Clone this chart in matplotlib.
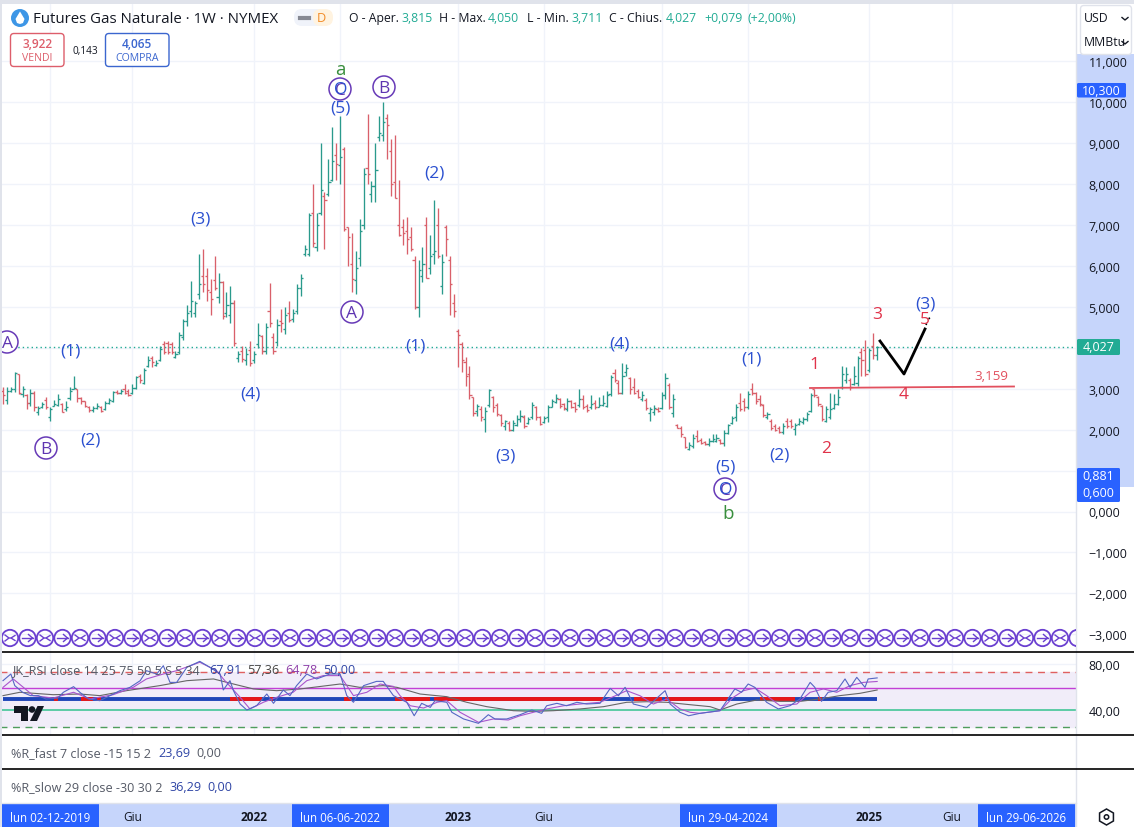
import matplotlib
matplotlib.use("Agg")
import matplotlib.pyplot as plt
from matplotlib.collections import LineCollection
from matplotlib.lines import Line2D
from matplotlib.patches import Rectangle, FancyBboxPatch, Circle, Polygon, RegularPolygon
from matplotlib.transforms import Affine2D

# ---------- data ----------
highs = [3.05,3.03,3.03,3.40,3.36,3.06,2.87,2.99,2.95,2.58,2.67,2.79,2.54,2.73,2.87,2.65,2.71,3.03,3.30,3.00,
 2.79,2.71,2.57,2.57,2.65,2.58,2.71,2.76,2.95,2.97,2.99,3.11,3.00,3.11,3.32,3.36,3.50,3.79,3.79,3.70,
 4.03,4.17,4.17,4.15,3.93,4.39,4.70,5.04,5.64,5.14,6.29,6.42,5.94,5.68,6.25,5.83,5.64,5.36,5.50,5.16,
 3.93,4.05,3.99,4.17,3.93,4.60,4.30,4.60,5.57,4.35,4.70,4.95,4.99,5.15,4.95,5.55,5.80,6.50,7.30,8.00,
 7.30,9.00,7.80,8.60,9.40,9.00,9.65,8.90,6.95,6.80,6.35,7.15,8.40,9.70,8.07,9.00,9.65,10.00,9.70,9.10,
 9.20,8.10,7.15,7.20,6.95,6.24,6.15,6.45,7.20,6.75,7.60,7.40,6.30,7.00,6.24,5.30,4.45,4.15,3.77,3.56,
 2.80,2.62,2.58,2.54,3.00,2.83,2.65,2.38,2.24,2.20,2.24,2.35,2.48,2.35,2.30,2.67,2.57,2.33,2.33,2.60,
 2.75,2.87,2.77,2.65,2.77,2.73,2.68,2.99,2.84,2.62,2.84,2.73,2.79,2.84,2.95,3.33,3.47,3.20,3.62,3.60,
 3.28,3.25,3.00,2.95,2.77,2.54,2.60,2.54,2.91,3.38,3.15,2.87,2.14,2.10,1.83,1.69,1.90,1.98,1.80,1.73,
 1.80,1.90,1.90,1.78,1.98,2.14,2.33,2.62,2.90,2.78,2.95,3.14,2.93,2.84,2.62,2.42,2.26,2.14,2.10,2.17,
 2.28,2.26,2.17,2.28,2.30,2.42,2.90,3.00,2.83,2.60,2.57,2.90,2.87,2.98,3.55,3.52,3.25,3.55,3.80,4.00,
 4.19,4.00,4.35,4.05]
lows = [2.63,2.63,2.91,2.91,2.87,2.79,2.50,2.58,2.46,2.36,2.52,2.50,2.22,2.57,2.57,2.42,2.46,2.73,2.99,2.68,
 2.63,2.54,2.42,2.44,2.50,2.44,2.49,2.63,2.67,2.87,2.87,2.87,2.82,2.87,3.00,3.15,3.11,3.52,3.52,3.56,
 3.68,3.85,3.85,3.85,3.75,3.85,4.20,4.54,4.75,4.75,5.20,5.37,5.14,4.80,5.40,5.10,4.70,4.75,4.60,4.05,
 3.66,3.66,3.58,3.55,3.63,4.00,3.85,3.85,4.50,3.85,4.05,4.38,4.33,4.63,4.63,4.82,5.26,6.24,6.24,6.46,
 6.35,7.25,6.40,7.70,8.07,8.10,8.00,6.85,6.00,5.35,5.30,6.00,6.90,8.00,7.55,7.55,9.05,9.05,8.60,7.70,
 7.65,6.73,6.50,6.30,6.35,4.95,4.75,5.60,5.70,5.80,6.05,6.20,5.30,6.25,4.80,4.75,3.52,3.40,3.06,2.75,
 2.34,2.34,2.22,1.95,2.54,2.42,2.33,2.10,2.00,1.97,1.97,2.10,2.18,2.03,2.14,2.26,2.24,2.11,2.16,2.18,
 2.54,2.65,2.52,2.49,2.46,2.52,2.44,2.54,2.50,2.42,2.50,2.50,2.54,2.57,2.54,2.83,3.17,2.87,2.87,3.32,
 2.87,2.87,2.76,2.70,2.49,2.22,2.36,2.42,2.50,2.75,2.50,2.30,2.03,1.83,1.54,1.50,1.54,1.69,1.65,1.62,
 1.59,1.69,1.69,1.65,1.59,1.90,2.14,2.20,2.46,2.46,2.50,2.85,2.62,2.58,2.30,2.26,2.00,1.97,1.92,1.90,
 2.05,2.05,1.87,2.12,2.13,2.22,2.43,2.80,2.58,2.22,2.19,2.26,2.50,2.60,3.00,3.15,2.97,3.08,3.07,3.30,
 3.30,3.40,3.72,3.711]
opens = [2.95,2.72,2.95,3.00,3.36,2.87,2.85,2.65,2.90,2.42,2.55,2.72,2.30,2.58,2.60,2.62,2.50,2.78,3.00,3.00,
 2.78,2.70,2.55,2.47,2.53,2.56,2.50,2.65,2.70,2.93,2.90,3.00,2.95,2.90,3.02,3.30,3.15,3.55,3.75,3.58,
 3.70,4.10,4.12,4.10,3.78,3.90,4.25,4.65,4.90,4.85,5.30,5.75,5.75,5.35,5.65,5.25,5.60,4.85,4.80,5.10,
 3.75,3.92,3.70,3.95,3.70,4.08,4.28,3.92,4.90,4.25,4.15,4.65,4.45,4.85,4.70,4.90,5.45,6.30,6.30,7.30,
 6.45,7.30,7.70,7.75,8.10,8.70,8.45,8.85,6.95,6.05,5.65,6.20,7.00,8.40,7.75,7.95,9.15,9.20,9.60,8.80,
 8.05,7.00,6.95,6.85,6.70,6.15,5.00,5.75,7.00,5.95,6.30,7.00,5.50,6.95,6.15,5.10,4.40,4.10,3.65,3.35,
 2.80,2.45,2.50,2.25,2.60,2.80,2.60,2.35,2.10,2.15,2.00,2.12,2.25,2.30,2.15,2.30,2.55,2.30,2.18,2.30,
 2.56,2.68,2.75,2.62,2.50,2.70,2.65,2.60,2.75,2.58,2.55,2.65,2.56,2.60,2.58,2.87,3.38,3.15,2.90,3.40,
 3.25,3.05,2.95,2.75,2.72,2.40,2.42,2.50,2.52,2.85,3.10,2.40,2.12,2.05,1.82,1.52,1.60,1.85,1.75,1.70,
 1.64,1.72,1.72,1.75,1.68,1.92,2.15,2.30,2.65,2.70,2.55,3.00,2.90,2.75,2.60,2.30,2.22,2.10,2.05,1.95,
 2.20,2.20,2.02,2.14,2.18,2.25,2.45,3.00,2.80,2.58,2.22,2.30,2.52,2.62,3.05,3.20,3.22,3.12,3.15,3.90,
 3.95,3.45,4.05,3.815]
closes = [2.85,2.95,3.00,3.38,2.90,3.00,2.65,2.90,2.55,2.52,2.62,2.55,2.50,2.62,2.75,2.44,2.55,2.95,3.02,2.78,
 2.70,2.58,2.48,2.52,2.58,2.46,2.65,2.72,2.93,2.90,2.95,2.90,2.85,3.02,3.28,3.20,3.45,3.70,3.65,3.62,
 3.98,3.90,3.90,3.90,3.85,4.30,4.65,4.85,5.15,5.10,5.55,5.55,5.40,5.20,5.45,5.60,4.78,5.05,5.10,4.12,
 3.85,3.72,3.85,3.62,3.85,4.30,3.92,4.50,4.60,3.92,4.55,4.60,4.80,4.68,4.85,5.45,5.70,6.42,7.25,6.55,
 7.00,7.85,7.60,8.05,8.55,8.48,8.65,6.90,6.70,5.68,5.95,6.85,8.25,8.25,7.95,8.35,9.25,9.50,9.45,8.00,
 7.65,6.75,6.80,6.65,6.40,5.00,5.90,6.05,5.70,6.25,6.35,6.25,6.10,6.65,5.55,4.90,4.30,3.70,3.30,2.85,
 2.40,2.58,2.30,2.45,2.97,2.55,2.38,2.15,2.20,2.00,2.15,2.25,2.32,2.10,2.25,2.60,2.30,2.14,2.28,2.55,
 2.70,2.78,2.58,2.52,2.70,2.55,2.50,2.75,2.55,2.48,2.62,2.55,2.60,2.65,2.85,3.28,3.22,2.90,3.30,3.50,
 3.00,2.90,2.80,2.85,2.52,2.50,2.52,2.45,2.85,3.25,2.55,2.75,2.05,1.90,1.58,1.62,1.80,1.72,1.68,1.65,
 1.72,1.78,1.80,1.68,1.92,2.12,2.28,2.55,2.50,2.55,2.88,2.90,2.70,2.62,2.35,2.38,2.05,2.00,1.95,2.10,
 2.10,2.08,2.12,2.22,2.26,2.38,2.85,2.85,2.62,2.25,2.50,2.50,2.62,2.80,3.35,3.35,3.05,3.30,3.75,3.70,
 3.35,3.95,3.82,4.027]

rsi_fast_bars = [0,2,3,5,7,9,11,14,15.4,18,19.6,21.8,24.7,27.3,29.8,32.4,35,36.6,39.2,40.9,42.6,44.3,46.9,50.2,52.8,55.4,56.2,57.9,58.8,60.5,62.2,64.7,67.3,69,71.5,73.2,74.9,77.5,80,83.4,86,87.7,89.4,92,95.3,97,99.6,103,104.9,106.8,109,110.2,113.2,114.5,117.5,121.3,123.8,125.5,128.5,131.9,134.9,137.4,138.7,141.3,143.8,146.4,148.9,152.3,154.9,157,158.7,160.8,164.2,168.9,170.2,172.7,174.9,177.8,182.9,186.7,188.4,190.1,191.8,194.8,197.8,200.8,203.3,205.9,207.1,208.8,210.5,212.7,214.8,216.1,217.8,219.9,220.7,223]
rsi_fast = [65.5,71.3,61.2,55.4,52.5,52.5,49.5,50.4,55.4,60.3,55.4,49.6,48.1,52.5,56.8,59.7,65.5,74.2,71.3,78.5,64,64,77.1,82.3,77.1,71.3,57.4,65.5,56.8,45.2,40,43.8,53.9,45.8,57.4,52.5,61.2,71.3,67,71.3,71.3,52.5,46.7,61.2,64.9,64.9,52.5,46.7,35,45.8,42.3,48.1,46.7,38,32.2,28.4,35.9,32.2,32.2,35.9,40,37.1,43.7,45.8,43.7,46.7,45.2,45.8,58.8,52.4,59.7,45.2,42.3,56.8,45.2,38,35,37.1,39.4,58.3,55.4,62.6,59.7,46.7,40.9,43.8,49.6,64,59.7,47.5,55.4,56.8,67,59.7,68.4,59.7,67,67.9]
rsi_smooth_bars = [0,2.6,5.2,7.7,12.8,18,22.2,28.1,33.2,36.6,40.9,44.3,50.2,54.5,56.2,60.5,63,66.4,69.8,74,77.5,81.7,86,89.4,92.8,96.2,99.6,101.3,103.9,107.3,110.7,113.2,116.6,121.3,125.1,128.9,131.9,135.3,138.7,143,147.2,152.3,155.7,159.1,162.5,165.9,169.3,172.7,175.3,177.8,182.9,186.3,188.9,191.8,194.8,198.2,202.5,205.9,209.3,212.7,216.1,219.5,223]
rsi_smooth = [59.7,67,59.7,52.5,50.4,55.4,49.6,53.3,59.7,67,71.3,74.2,81.5,74.2,67,51,40.9,46.7,51,55.4,65.5,69.9,69.9,52.5,55.4,62.6,60.5,52.4,43.7,41.7,46.7,48.1,38,29.3,32.2,31.3,35,38,40.9,43.7,45.2,46.7,51.6,56.8,52.4,45.2,49.6,40.9,38,37.1,39.4,51,56.8,59.1,52.5,43.8,45.2,55.4,58.3,55.4,61.2,64,64.8]
rsi_slow_bars = [0,4.3,12.8,19.6,24.7,31.5,40,46.9,53.7,58.8,63.9,69.8,75.8,86,91,97,100.5,106.4,113.2,118.3,123.4,130.2,135.3,140.4,147.2,153.2,159.1,164.2,169.3,175.3,180.4,182.9,187.2,192.3,198.2,203.3,208.4,213.5,218.6,223]
rsi_slow = [52.5,55.4,53.3,53.9,52.5,56.8,61.2,65.5,67,62.6,58.3,56.8,58.3,62.6,59.7,61.2,59.7,53.9,51.6,46.7,42.9,39.4,38.8,39.4,40.9,42.9,46.7,47.2,46.7,44.6,42.9,40,45.2,48.7,47.5,47.5,49.6,52.5,54.5,57.4]
rsi_midline_red_ranges = [(13,14),(20,23),(24,25),(58,66),(68,69),(87,89),(100,109),(110,153),(161,168),(169,185),(193,202),(208,209)]
rsi_bands = {"upper": 73.3, "lower": 25, "purple": 59, "green": 40, "mid": 50}

price_ticks = [11,10,9,8,7,6,5,4,3,2,1,0,-1,-2,-3]
rsi_ticks = [80,40]
grid_bars = [12,33,64,86,116,138,168,190,221,242]
plain_time_labels = [(33,"Giu"),(64,"2022"),(116,"2023"),(138,"Giu"),(221,"2025"),(242,"Giu")]
tag_time_labels = [(12,"lun 02-12-2019"),(86,"lun 06-06-2022"),(185,"lun 29-04-2024"),(261,"lun 29-06-2026")]
last_price = 4.027
support_value = "3,159"

blue_waves = [("(3)",200,218),("(5)",340,107),("(2)",434,172),("(1)",70,350),("(2)",90,439),("(4)",250,393),
              ("(1)",415,345),("(3)",505,455),("(4)",619,343),("(5)",725,466),("(1)",751,358),("(2)",779,454),("(3)",925,303)]
red_waves = [("1",814,364),("2",826,448),("3",877,314),("4",904,394),("5",925,319)]
circled_waves = [("A",7,343),("B",46,449),("A",352,313),("B",384,88),("C",340,90),("C",725,490)]
green_waves = [("a",340,69),("b",728,513)]

# ---------- layout ----------
W, H = 1134, 828
plt.rcParams['font.family'] = ['Open Sans', 'DejaVu Sans']
fig = plt.figure(figsize=(W/100, H/100), dpi=100, facecolor='white')
px = Affine2D().scale(1, -1).translate(0, H)

X0, DX = 3.0, 3.92
PANE_R = 1076
def bar_lim():
    return (-X0/DX, (PANE_R-X0)/DX)
def add_ax(top, bottom, right=PANE_R):
    return fig.add_axes([0, 1-bottom/H, right/W, (bottom-top)/H])
def price_at(y):
    return (512.5-y)/40.95
def rsi_at(y):
    return 40+(711-y)/1.15

def txt(x, y, s, size=8.8, color='#131722', ha='left', va='center', z=6, **kw):
    return fig.text(x, y+1.5, s, transform=px, fontsize=size, color=color, ha=ha, va=va, zorder=z, **kw)
def frect(x0, y0, x1, y1, color, z=-1):
    fig.add_artist(Rectangle((x0, y0), x1-x0, y1-y0, transform=px, facecolor=color, edgecolor='none', zorder=z))
def fline(xs, ys, color, lw=1.0, z=5, **kw):
    fig.add_artist(Line2D(xs, ys, transform=px, color=color, lw=lw, zorder=z, **kw))

LAV = '#c6d5fb'
TAG = '#2962ff'
GRID = '#f0f3fa'
UP, DOWN = '#2a9a8c', '#d9606a'
TEAL = '#22ab94'

frect(PANE_R, 55, W, 488, LAV)

# ---------- main price pane ----------
ax = add_ax(5, 653)
ax.set_xlim(*bar_lim())
ax.set_ylim(price_at(653), price_at(5))
for s in ax.spines.values():
    s.set_visible(False)
ax.set_xticks(grid_bars)
ax.set_yticks(price_ticks)
# the 4,000 label sits fully under the last-price tag in the reference
ax.set_yticklabels(["" if v == 4 else f"{v:,.3f}".replace('.', ',').replace('-', '\u2212') for v in price_ticks])
ax.yaxis.tick_right()
ax.tick_params(axis='x', length=0, labelbottom=False)
ax.tick_params(axis='y', length=0, pad=9, labelsize=9, labelcolor='#131722')
ax.grid(True, color=GRID, lw=1)
ax.set_axisbelow(True)

up_segs, dn_segs = [], []
for i, (o, h, l, c) in enumerate(zip(opens, highs, lows, closes)):
    t = up_segs if c >= o else dn_segs
    t.append([(i, l), (i, h)])
    t.append([(i-0.55, o), (i, o)])
    t.append([(i, c), (i+0.55, c)])
ax.add_collection(LineCollection(up_segs, colors=UP, linewidths=0.95, zorder=3))
ax.add_collection(LineCollection(dn_segs, colors=DOWN, linewidths=0.95, zorder=3))
ax.axhline(last_price, color=TEAL, lw=1, ls=(0, (1, 2.2)), zorder=2)

# Elliott annotations (screen positions)
for s, x, y in blue_waves:
    txt(x, y, s, size=12.5, color='#2b50d0', ha='center', fontweight='medium')
for s, x, y in red_waves:
    txt(x, y, s, size=12.5, color='#e0334a', ha='center', fontweight='medium')
for s, x, y in green_waves:
    txt(x, y, s, size=13.5, color='#388e3c', ha='center', fontweight='medium')
for s, x, y in circled_waves:
    fig.add_artist(Circle((x, y), 11, transform=px, facecolor='white', edgecolor='#673ab7', lw=1.1, zorder=5))
    txt(x, y, s, size=12.5, color='#5e35b1', ha='center', fontweight='medium')
for x, y in [(340, 90), (725, 490)]:
    txt(x+1, y-1, "O", size=12.5, color='#2b50d0', ha='center', fontweight='medium')

fline([810, 1014], [389, 387.5], '#e2505e', 1.3)
txt(991, 375, support_value, size=9.6, color='#e2505e', ha='center')
fline([880, 904, 925], [342, 375, 330], '#000000', 2.0)
fline([926, 928, 931], [326, 321, 317], '#000000', 1.2, ls=(0, (1, 3)))

# row of circled symbols along the foot of the pane
clip_rect = Rectangle((0, 0), PANE_R, H, transform=px, visible=False)
k = 0
while 10+17.5*k < PANE_R+2:
    cx = 10+17.5*k
    c = Circle((cx, 639), 8.2, transform=px, facecolor='none', edgecolor='#6a3fd0', lw=1.3, zorder=5)
    fig.add_artist(c)
    c.set_clip_path(clip_rect)
    if k % 2 == 0:
        segs = [([cx-5, cx-1], [636, 639]), ([cx-5, cx-1], [642, 639]), ([cx+1, cx+5], [639, 636.5]), ([cx+1, cx+5], [639, 641.5])]
    else:
        segs = [([cx-6, cx+5], [639, 639]), ([cx+1, cx+5], [635.5, 639]), ([cx+1, cx+5], [642.5, 639])]
    if cx+6 < PANE_R:
        for xs, ys in segs:
            fline(xs, ys, '#6a3fd0', 1.0)
    k += 1

# ---------- RSI pane ----------
axr = add_ax(653, 736)
axr.set_xlim(*bar_lim())
axr.set_ylim(rsi_at(736), rsi_at(653))
for s in axr.spines.values():
    s.set_visible(False)
axr.set_xticks(grid_bars)
axr.set_yticks(rsi_ticks)
axr.set_yticklabels([f"{v},00" for v in rsi_ticks])
axr.yaxis.tick_right()
axr.tick_params(axis='x', length=0, labelbottom=False)
axr.tick_params(axis='y', length=0, pad=9, labelsize=9, labelcolor='#131722')
axr.grid(True, color=GRID, lw=1)
axr.set_axisbelow(True)
axr.axhspan(rsi_bands["lower"], rsi_bands["upper"], color='#f1edf9', zorder=1)
axr.axhline(rsi_bands["upper"], color='#e06060', lw=1, ls=(0, (5, 4)), zorder=2)
axr.axhline(rsi_bands["lower"], color='#4f9d5d', lw=1, ls=(0, (5, 4)), zorder=2)
axr.axhline(rsi_bands["purple"], color='#c23fd6', lw=1, zorder=2)
axr.axhline(rsi_bands["green"], color='#35c38f', lw=1.1, zorder=2)
axr.plot([0, len(closes)-1], [rsi_bands["mid"]]*2, color='#1f46b8', lw=2.8, solid_capstyle='butt', zorder=3)
for a, b in rsi_midline_red_ranges:
    axr.plot([a, b], [rsi_bands["mid"]]*2, color='#e81818', lw=2.8, solid_capstyle='butt', zorder=3.1)
axr.plot(rsi_slow_bars, rsi_slow, color='#666666', lw=0.8, zorder=4)
axr.plot(rsi_smooth_bars, rsi_smooth, color='#a955cc', lw=0.8, zorder=4)
axr.plot(rsi_fast_bars, rsi_fast, color='#5566c4', lw=0.8, zorder=4)

txt(12, 669.5, "JK_RSI close 14 25 75 50 5 S S 34", size=9.1, color='#555a66')
txt(209, 669.5, "67,91", size=9.1, color='#2f45a5')
txt(247, 669.5, "57,36", size=9.1, color='#444444')
txt(285, 669.5, "64,78", size=9.1, color='#8e3fa8')
txt(323, 669.5, "50,00", size=9.1, color='#2f45a5')

# TV logo
fig.add_artist(Polygon([(14, 707), (28, 707), (28, 722), (21, 722), (21, 714), (14, 714)], transform=px, facecolor='#131722', zorder=6))
fig.add_artist(Circle((32, 710.5), 3.3, transform=px, facecolor='#131722', edgecolor='none', zorder=6))
fig.add_artist(Polygon([(37.5, 707), (44, 707), (37, 722), (30, 722)], transform=px, facecolor='#131722', zorder=6))

# ---------- %R panes ----------
txt(11, 752.5, "%R_fast 7 close -15 15 2", size=9.1, color='#555a66')
txt(158, 752.5, "23,69", size=9.1, color='#2f45a5')
txt(196, 752.5, "0,00", size=9.1, color='#555a66')
txt(11, 786.5, "%R_slow 29 close -30 30 2", size=9.1, color='#555a66')
txt(169, 786.5, "36,29", size=9.1, color='#2f45a5')
txt(207, 786.5, "0,00", size=9.1, color='#2f45a5')

# ---------- time axis ----------
axt = add_ax(804, 828)
axt.set_xlim(*bar_lim())
axt.set_ylim(0, 1)
axt.set_facecolor(LAV)
for s in axt.spines.values():
    s.set_visible(False)
axt.set_yticks([])
axt.set_xticks([b for b, _ in plain_time_labels])
axt.set_xticklabels([s for _, s in plain_time_labels])
axt.tick_params(axis='x', length=0, direction='in', pad=-12.5, labelsize=8.6, labelcolor='#131722')
for lab, (_, s) in zip(axt.get_xticklabels(), plain_time_labels):
    if s.isdigit():
        lab.set_fontweight('bold')
half = 48.5/DX
for b, s in tag_time_labels:
    axt.add_patch(Rectangle((b-half, 0), 2*half, 1, facecolor=TAG, edgecolor='none', zorder=3))
    axt.text(b, 0.40, s, color='white', fontsize=8.3, ha='center', va='center', zorder=4)

# ---------- frame ----------
frect(0, 0, W, 5, '#e0e3eb', z=9)
frect(0, 0, 2, H, '#e0e3eb', z=9)
fline([PANE_R, PANE_R], [5, H], '#e0e3eb', 1.0, z=4)
for y in (653, 736, 770):
    fline([0, W], [y, y], '#000000', 1.2, z=7)
fline([0, PANE_R], [804, 804], '#e0e3eb', 1.0, z=7)

# ---------- header ----------
fig.add_artist(Circle((20, 19), 9, transform=px, facecolor='#3d96e6', edgecolor='none', zorder=6))
fig.add_artist(Polygon([(20, 12.5), (24.5, 20), (23, 24), (20, 25), (17, 24), (15.5, 20)], transform=px, facecolor='white', zorder=7))
txt(33, 18, "Futures Gas Naturale \u00b7 1W \u00b7 NYMEX", size=10.8, color='#131722')
fig.add_artist(FancyBboxPatch((294, 10), 36, 17, boxstyle="round,pad=0,rounding_size=8", transform=px, facecolor='#f0f3fa', edgecolor='none', zorder=6))
fig.add_artist(FancyBboxPatch((313, 10), 20, 17, boxstyle="round,pad=0,rounding_size=8", transform=px, facecolor='#fff3e0', edgecolor='none', zorder=6))
fline([300, 309], [18.5, 18.5], '#868993', 3, z=7)
txt(321.5, 17.5, "D", size=9.2, color='#f28c28', ha='center', z=7)

hdr_y = 17.5
for x, s, col in [(349, "O - Aper.", '#131722'), (401, "3,815", TEAL), (439, "H - Max.", '#131722'), (488, "4,050", TEAL),
                  (527, "L - Min.", '#131722'), (571, "3,711", TEAL), (609, "C - Chius.", '#131722'), (666, "4,027", TEAL),
                  (704, "+0,079", TEAL), (748, "(+2,00%)", TEAL)]:
    txt(x, hdr_y, s, size=8.8, color=col)

for x0, x1, col, v, lab in [(10.5, 64, '#dd5e6b', "3,922", "VENDI"), (105.5, 169, '#3b66cf', "4,065", "COMPRA")]:
    fig.add_artist(FancyBboxPatch((x0, 34.5), x1-x0, 33, boxstyle="round,pad=0,rounding_size=3.5", transform=px, facecolor='white', edgecolor=col, lw=1, zorder=6))
    txt((x0+x1)/2, 43.5, v, size=8.6, color=col, ha='center', z=7, fontweight='semibold')
    txt((x0+x1)/2, 57.5, lab, size=7.6, color=col, ha='center', z=7)
txt(85, 50.5, "0,143", size=7.2, color='#131722', ha='center')

# ---------- right side tags and unit box ----------
def tag(x0, y0, x1, y1, color, s, sy=None):
    fig.add_artist(FancyBboxPatch((x0, y0), x1-x0, y1-y0, boxstyle="round,pad=0,rounding_size=1.5", transform=px, facecolor=color, edgecolor='none', zorder=8))
    txt((x0+x1)/2, sy if sy else (y0+y1)/2-1.5, s, size=9, color='white', ha='center', z=9, fontweight='medium')
tag(1077, 84, 1126, 98.5, TAG, "10,300")
tag(1077, 340, 1120, 356, TEAL, "4,027")
tag(1077, 469, 1120, 503, TAG, "0,881", sy=475.5)
txt(1098.5, 492, "0,600", size=9, color='white', ha='center', z=9, fontweight='medium')

fig.add_artist(FancyBboxPatch((1080.5, 6.5), 51, 49, boxstyle="round,pad=0,rounding_size=3.5", transform=px, facecolor='white', edgecolor='#e0e3eb', lw=1, zorder=6))
txt(1084, 17.5, "USD", size=8.8, z=7)
txt(1084, 41.5, "MMBtu", size=8.8, z=7)
fline([1122, 1125, 1128], [18.5, 21, 18.5], '#131722', 1, z=7)
fline([1122, 1125, 1128], [42.5, 45, 42.5], '#131722', 1, z=7)

fig.add_artist(RegularPolygon((1106.5, 818), 6, radius=8, orientation=0, transform=px, facecolor='white', edgecolor='#131722', lw=1.1, zorder=6))
fig.add_artist(Circle((1106.5, 818), 2.2, transform=px, facecolor='white', edgecolor='#131722', lw=1.1, zorder=7))

fig.savefig("out.png", dpi=100, facecolor='white')
